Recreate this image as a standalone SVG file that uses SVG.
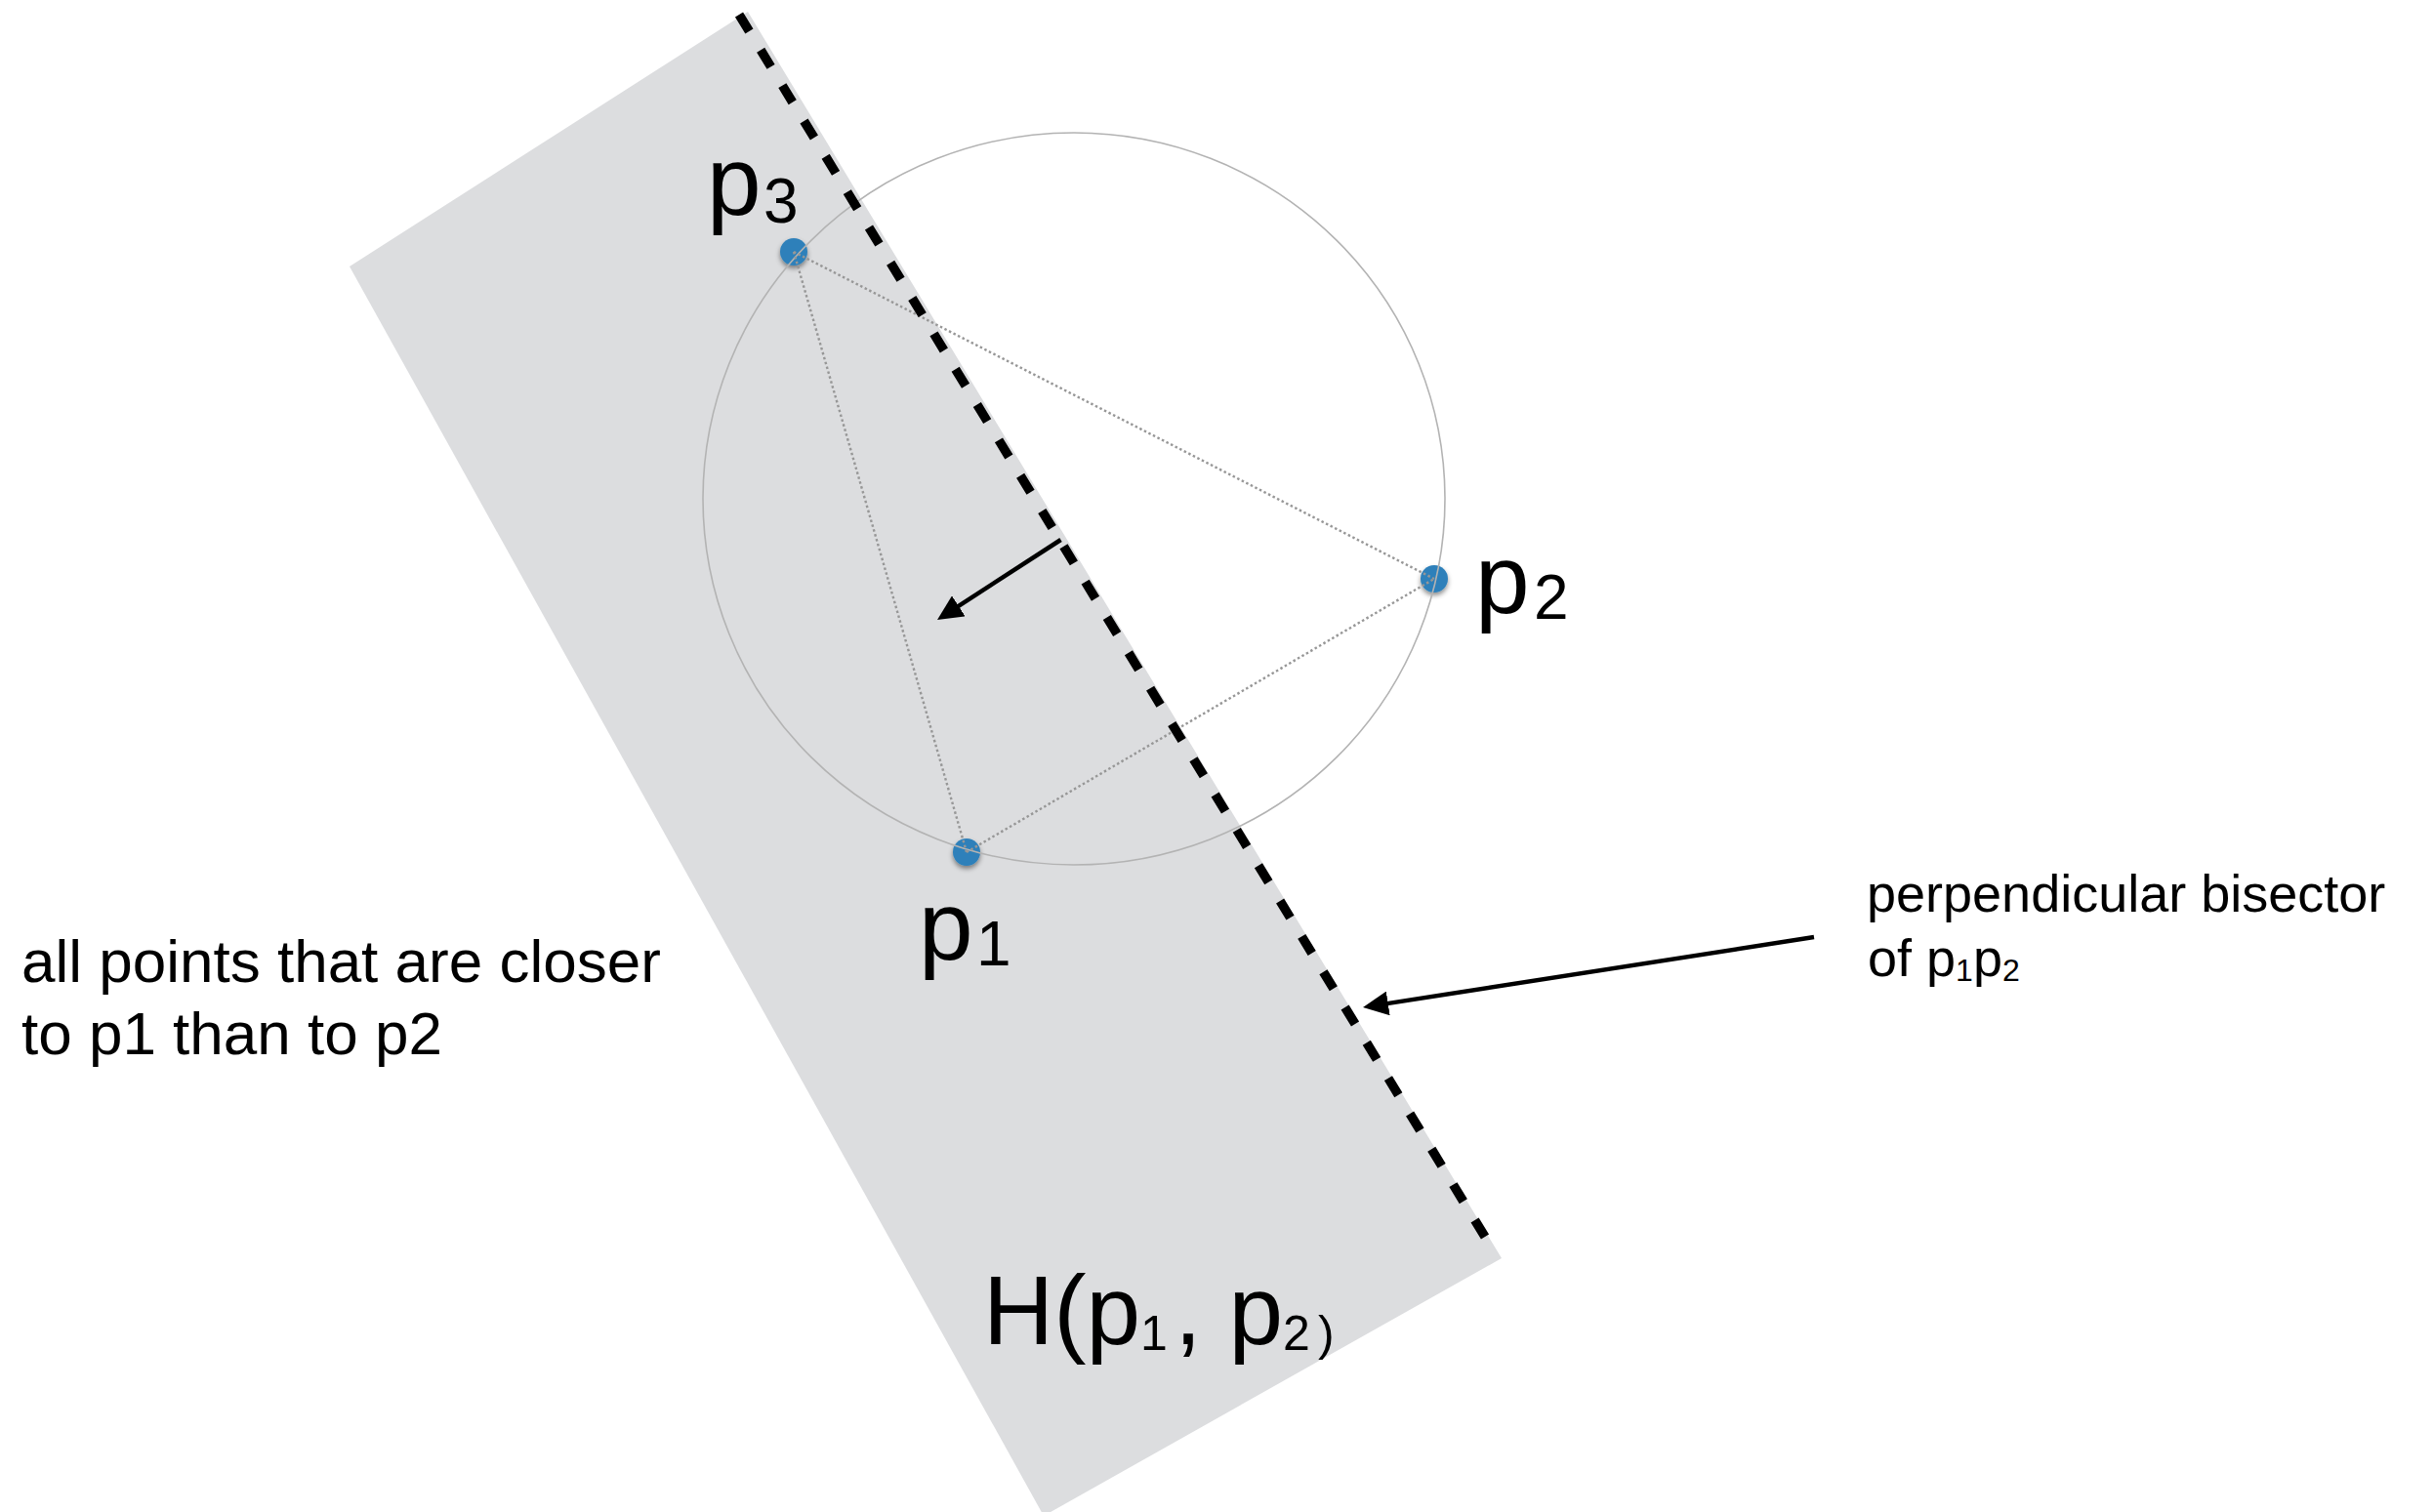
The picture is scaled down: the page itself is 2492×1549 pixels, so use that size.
<svg xmlns="http://www.w3.org/2000/svg" width="2492" height="1549" viewBox="0 0 2492 1549">
<defs>
<style>
.lbl{font-family:"Liberation Sans",Arial,sans-serif;fill:#000;}
.pt{fill:#2e80ba;filter:url(#sh);}
.dot{fill:none;stroke:#979797;stroke-width:2.4;stroke-dasharray:2.5 2.6;}
.arr{stroke:#000;stroke-width:4.5;fill:none;marker-end:url(#ah);}
.bis{stroke:#000;stroke-width:9.5;fill:none;stroke-dasharray:20 22.55;}
</style>
<filter id="sh" x="-50%" y="-50%" width="200%" height="200%"><feDropShadow dx="0" dy="3" stdDeviation="2.5" flood-color="#000" flood-opacity="0.45"/></filter>
<marker id="ah" markerUnits="userSpaceOnUse" viewBox="0 0 26 25" refX="6" refY="12.5" markerWidth="26" markerHeight="25" orient="auto"><path d="M0,0 L26,12.5 L0,25 Z" fill="#000"/></marker>
</defs>
<rect width="2492" height="1549" fill="#fff"/>
<g id="halfplane">
<polygon points="766,12 358,273 1069,1553 1538,1289" fill="#dcdddf"/>
<text class="lbl" font-size="100" y="1377"><tspan x="1007">H(p</tspan><tspan font-size="50" x="1168" y="1383">1</tspan><tspan x="1203" y="1377">, p</tspan><tspan font-size="50" x="1314" y="1383">2</tspan><tspan font-size="50" x="1350" y="1383">)</tspan></text>
</g>
<g id="p3">
<circle class="pt" cx="813" cy="258" r="14"/>
<text class="lbl" font-size="100" x="724" y="220">p<tspan font-size="64" x="782" y="228">3</tspan></text>
</g>
<g id="p2">
<circle class="pt" cx="1469" cy="593" r="14"/>
<text class="lbl" font-size="100" x="1511" y="628">p<tspan font-size="64" x="1571" y="634">2</tspan></text>
</g>
<g id="p1">
<circle class="pt" cx="990" cy="873" r="14"/>
<text class="lbl" font-size="100" x="941" y="983">p<tspan font-size="64" x="1000" y="989">1</tspan></text>
</g>
<g id="circumcircle">
<ellipse cx="1100" cy="511" rx="380" ry="375" fill="none" stroke="#b3b3b3" stroke-width="1.6"/>
</g>
<g id="connectors">
<line class="dot" x1="813" y1="258" x2="1469" y2="593"/>
<line class="dot" x1="813" y1="258" x2="990" y2="873"/>
<line class="dot" x1="990" y1="873" x2="1469" y2="593"/>
<line class="bis" x1="757" y1="15" x2="1521" y2="1267"/>
<line class="arr" x1="1086.5" y1="553" x2="976.8" y2="624.1"/>
<line class="arr" x1="1858" y1="960" x2="1415.8" y2="1028.9"/>
</g>
<g id="note-left">
<text class="lbl" font-size="62" x="22" y="1006">all points that are closer</text>
<text class="lbl" font-size="62" x="22" y="1080">to p1 than to p2</text>
</g>
<g id="note-right">
<text class="lbl" font-size="54" x="1912" y="934">perpendicular bisector</text>
<text class="lbl" font-size="54" x="1913" y="1000">of p<tspan font-size="32" dy="5">1</tspan><tspan dy="-5">p</tspan><tspan font-size="32" dy="5">2</tspan></text>
</g>
</svg>
